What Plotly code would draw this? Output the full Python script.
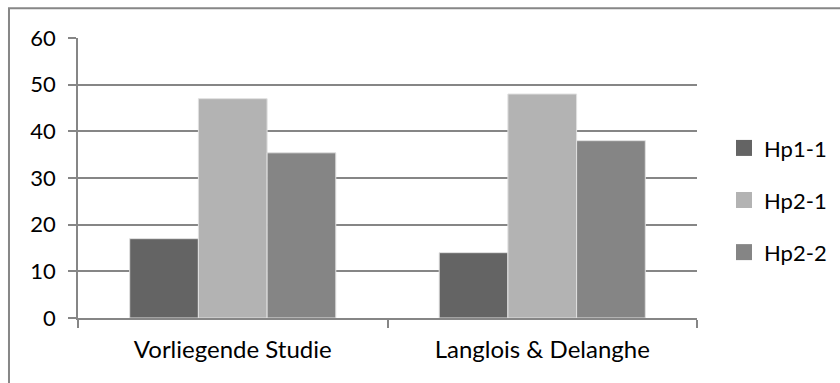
import plotly.graph_objects as go

# Data
categories = ["Vorliegende Studie", "Langlois & Delanghe"]
series_names = ["Hp1-1", "Hp2-1", "Hp2-2"]
hp1_1 = [17, 14]
hp2_1 = [47, 48]
hp2_2 = [35.4, 38]
y_ticks = [0, 10, 20, 30, 40, 50, 60]

colors = ["#646464", "#b3b3b3", "#858585"]
FONT = "Lato"
GRID = "#868686"

fig = go.Figure()

for name, vals, col in zip(series_names, [hp1_1, hp2_1, hp2_2], colors):
    fig.add_trace(go.Bar(
        x=categories, y=vals, name=name,
        marker=dict(color=col, line=dict(color="#e0e0e0", width=1)),
        showlegend=False,
    ))
    # legend entry drawn with a larger square swatch
    fig.add_trace(go.Scatter(
        x=[None], y=[None], mode="markers", name=name, legendgroup=name,
        marker=dict(symbol="square", size=16, color=col),
    ))

fig.update_layout(
    width=840, height=383,
    margin=dict(l=78, r=143, t=38, b=65, autoexpand=False),
    paper_bgcolor="white", plot_bgcolor="white",
    barmode="group", bargap=0.334, bargroupgap=0,
    font=dict(family=FONT, size=22, color="black"),
    showlegend=True,
    legend=dict(
        x=1.0436, y=0.421, xanchor="left", yanchor="middle",
        font=dict(family=FONT, size=22, color="black"),
        tracegroupgap=20.5, itemsizing="trace",
        bgcolor="rgba(0,0,0,0)",
    ),
    xaxis=dict(
        type="category",
        showline=True, linecolor=GRID, linewidth=1.5,
        ticks="outside", tickson="boundaries", ticklen=8, tickcolor=GRID, tickwidth=1.5,
        showgrid=False, tickfont=dict(family=FONT, size=24),
        ticklabelstandoff=9,
    ),
    yaxis=dict(
        range=[0, 60], tickvals=y_ticks,
        showline=True, linecolor=GRID, linewidth=1.5,
        ticks="outside", ticklen=8, tickcolor=GRID, tickwidth=1.5,
        showgrid=True, gridcolor=GRID, gridwidth=1.5,
        zeroline=False, tickfont=dict(family=FONT, size=22),
        ticklabelstandoff=8,
    ),
)

# outer chart frame
fig.add_shape(type="rect", xref="paper", yref="paper",
              x0=-0.1115, x1=1.3, y0=-0.4, y1=1.106,
              line=dict(color="#878787", width=2), fillcolor="rgba(0,0,0,0)", layer="above")

fig.write_html("out.html")
